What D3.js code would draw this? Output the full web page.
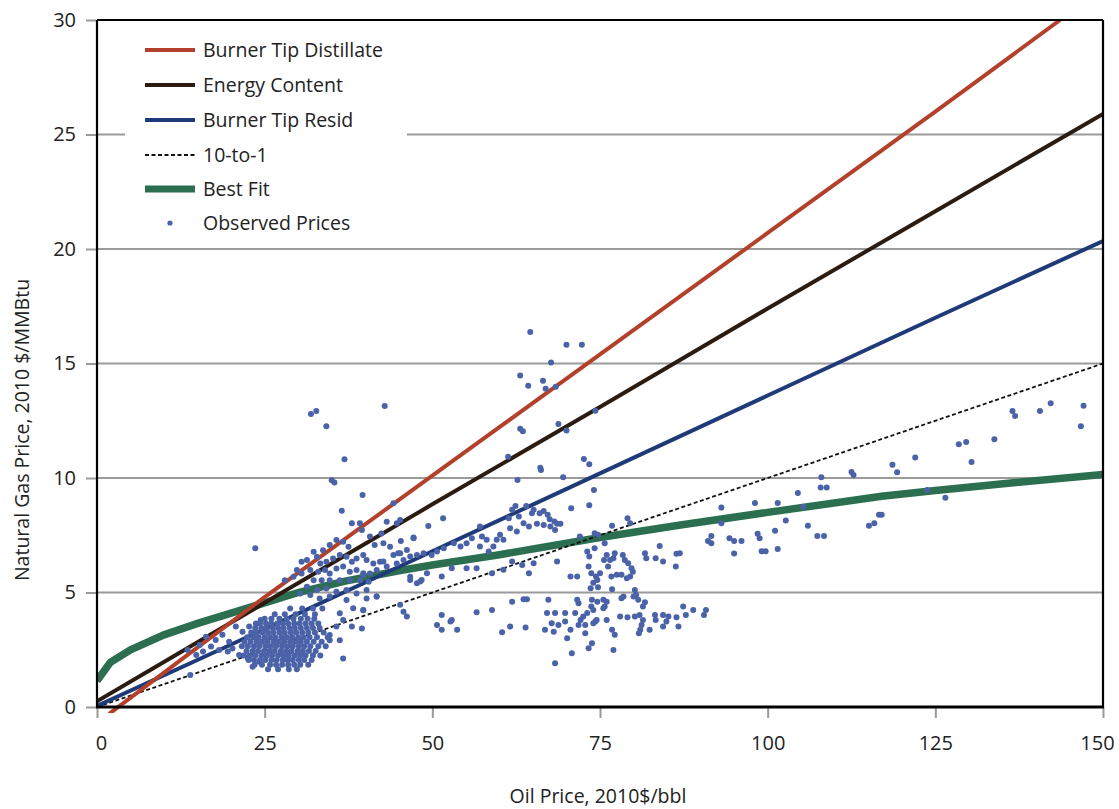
<!DOCTYPE html>
<html><head><meta charset="utf-8">
<script src="https://cdn.jsdelivr.net/npm/d3@7"></script>
<style>html,body{margin:0;padding:0;background:#fff;}svg{display:block;font-family:"Open Sans",sans-serif;}</style>
</head><body><svg id="c" width="1119" height="809"></svg>
<script>
const xTicks=[0,25,50,75,100,125,150];
const yTicks=[0,5,10,15,20,25,30];
const seriesNames=["Burner Tip Distillate","Energy Content","Burner Tip Resid","10-to-1","Best Fit","Observed Prices"];
const burnerTipDistillate=[[1.8,-0.3],[25,4.8],[50,10.1],[75,15.4],[100,20.7],[125,26.0],[143.6,30]];
const energyContent=[[0,0.25],[25,4.55],[50,8.85],[75,13.1],[100,17.4],[125,21.65],[150,25.9]];
const burnerTipResid=[[0,0.05],[25,3.4],[50,6.8],[75,10.2],[100,13.6],[125,17.0],[150,20.35]];
const tenToOne=[[0,0],[150,15]];
const bestFit=[[0,1.15],[2,1.95],[5,2.5],[10,3.15],[15,3.65],[20,4.1],[25,4.55],[30,5.0],[37,5.5],[45,5.95],[50,6.2],[60,6.65],[75,7.4],[87,7.95],[100,8.5],[117,9.2],[125,9.45],[137,9.8],[150,10.15]];
const observedOutliers=[[31.9,12.8],[32.7,12.93],[34.2,12.26],[42.9,13.14],[36.9,10.82],[35.0,9.9],[35.4,9.8],[39.6,9.26],
[64.6,16.38],[70.0,15.82],[72.3,15.82],[67.7,15.04],[63.1,14.48],[64.3,14.03],[66.5,14.25],[66.9,13.9],[68.4,13.99],[63.1,12.15],[63.5,12.04],[68.8,12.36],[70.0,12.07],[74.3,12.94],[61.3,10.93],[72.6,10.83],
[66.1,10.45],[66.2,10.35],[62.7,9.91],[73.4,10.6],[69.5,10.03],[74.1,9.48],[73.4,8.81],[70.7,8.68],[51.6,8.24],[49.4,7.9],[45.3,7.25],[47.2,7.4]];
const observedMid=[[61.9,8.61],[62.4,8.78],[64.0,8.78],[64.85,8.46],[65.1,8.61],[66.0,8.46],[66.6,8.56],[67.2,8.39],[67.5,8.2],[68.2,8.1],[68.6,8.0],[69.1,8.0],[61.4,8.24],[62.9,8.32],[63.6,8.02],[64.4,7.88],[65.6,8.0],[66.6,7.95],[67.6,7.88],[68.3,7.73],[61.6,7.81],[62.6,7.66],[60.1,7.52],[59.6,7.3],[60.6,7.3],[58.1,7.3],[57.1,7.88],[57.4,7.44],[55.9,7.37],[55.1,7.15],[57.1,7.01],[59.1,7.01],[58.4,6.79],[54.2,7.01],[53.2,7.15],[51.7,6.93],[50.7,6.79],[49.9,6.64],[48.7,6.71],[47.7,6.64],[46.7,6.57],[46.2,6.86],[45.7,6.42],[45.2,6.71],
[46.7,5.55],[48.2,5.48],[49.2,5.84],[51.4,5.7],[52.9,6.06],[55.1,6.06],[56.6,6.06],[58.9,5.84],[60.6,5.99],[61.9,6.35],[63.4,6.2],[64.4,5.84],[65.1,6.28],[68.6,6.35],[70.6,5.7],[71.6,5.7],[73.1,6.79],[73.3,6.13],[73.7,5.84],[74.0,5.43],[73.6,5.19],[74.6,5.55],[75.0,5.84],
[45.2,4.46],[46.2,3.95],[50.7,3.58],[51.4,4.02],[51.4,3.37],[52.7,3.73],[52.9,3.8],[53.7,3.37],[56.6,4.14],[58.9,4.24],[61.9,4.6],[63.6,4.71],[64.1,4.71],[67.3,4.68],[67.1,4.1],[67.8,3.66],[68.3,4.1],[66.8,3.37],[68.1,3.29],[68.8,3.58],[69.8,4.1],[69.8,3.73],[70.1,3.0],[71.6,4.68],[71.8,4.53],[71.3,4.1],[72.1,3.8],[73.1,4.1],[74.0,4.24],[73.8,4.68],[74.6,4.6],[74.3,3.73],[72.8,3.58],[71.8,3.58],[70.6,3.37],[72.8,3.22],[73.8,2.78],[73.3,2.57],[70.8,2.35],[68.3,1.91],[61.6,3.51],[63.9,3.47],[60.4,3.26]];
const observedRight=[[74.2,7.59],[74.7,7.52],[73.4,6.57],[74.2,6.93],[74.4,5.7],[74.7,5.23],[73.7,4.39],[72.5,3.95],[74.5,3.8],[74.0,3.66],[72.0,7.44],
[79.1,8.24],[79.5,8.02],[76.8,7.92],[75.7,7.15],[76.0,6.64],[75.6,6.42],[76.5,6.42],[77.0,6.5],[77.2,6.71],[78.4,6.64],[78.7,6.42],[79.2,6.28],[79.7,6.06],[79.9,5.91],[79.5,5.7],[79.0,5.62],[78.2,5.77],[77.5,5.77],[76.7,5.7],[76.2,6.13],[81.9,6.5],[81.7,6.71],[83.3,6.5],[84.4,6.35],[83.9,7.03],[86.4,6.69],[86.3,6.13],[76.8,5.14],[78.5,4.82],[78.2,4.75],[80.2,5.11],[80.4,4.89],[80.0,4.82],[80.7,4.68],[75.5,4.68],[76.0,4.6],[75.7,4.39],[75.5,4.31],[76.0,3.8],[76.8,3.37],[77.2,3.15],[77.0,2.49],[78.0,3.95],[79.1,3.92],[80.2,3.95],[80.9,4.02],[81.4,3.8],[81.2,3.58],[81.0,3.37],[80.8,3.22],[82.4,3.37],[81.4,4.39],[81.7,4.57],[83.2,4.02],[83.3,3.8],[84.4,4.02],[85.2,3.95],[84.9,3.73],[84.4,3.51],[86.4,3.92],[86.7,3.51],[87.4,4.39],[87.8,4.02],[88.9,4.24],[90.5,4.02],[90.8,4.24],
[86.9,6.71],[91.1,7.25],[91.6,7.15],[91.6,7.47],[93.1,8.71],[93.1,8.02],[94.3,7.37],[95.0,7.25],[96.1,7.25],[95.0,6.7],[98.1,8.91],[98.5,7.57],[98.8,7.37],[99.1,6.8],[99.7,6.8],[101.1,7.7],[101.5,6.9],[101.5,8.91],[102.7,8.14],[104.5,9.35],[106.0,7.92],[105.3,8.75],[107.4,7.47],[108.4,7.47],[108.0,10.03],[107.9,9.59],[108.8,9.59],[112.5,10.26],[112.8,10.13],[115.1,7.92],[115.9,8.02],[116.6,8.39],[117.0,8.39],[118.6,10.58],[119.3,10.25],[122.0,10.9],[123.8,9.48],[126.5,9.14],[128.5,11.47],[129.6,11.57],[130.4,10.7],[133.8,11.69],[136.5,12.93],[136.9,12.71],[140.6,12.93],[142.2,13.26],[147.1,13.15],[146.7,12.26]];
const observedLeft=[[36.5,8.57],[23.6,6.93],[38.0,8.02],[39.2,8.02],[39.5,7.73],[40.7,7.44],[42.4,7.58],[43.2,8.09],[44.7,8.02],[41.4,7.07],[42.7,7.15],[43.7,7.0],[44.2,6.64],[44.7,6.27],[32.3,6.78],[33.7,6.85],[34.7,7.07],[35.7,7.29],[36.7,7.22],[37.5,7.0],[30.5,6.34],[31.3,6.42],[32.8,6.56],[33.3,6.27],[34.2,6.34],[35.2,6.49],[36.2,6.64],[37.2,6.56],[38.0,6.34],[38.7,6.49],[39.7,6.64],[40.2,6.42],[41.2,6.27],[42.2,6.34],[43.2,6.13],[31.8,5.98],[33.0,5.91],[34.0,5.98],[34.7,5.83],[35.7,6.05],[36.7,6.13],[37.7,5.91],[38.7,5.98],[39.7,5.76],[40.7,5.83],[41.7,5.98],[34.7,5.54],[36.2,5.54],[37.7,5.54],[39.2,5.54],[40.5,5.47],[33.5,5.54],[32.3,5.54],[31.3,5.25],[32.8,5.11],[34.2,5.18],[35.7,5.03],[37.2,5.11],[38.7,4.96],[40.2,5.11],[41.7,4.82],[40.2,4.74],[37.2,4.67],[34.7,4.82],[33.2,4.74],[31.8,4.89],[30.3,4.96],[38.2,4.31],[39.7,4.23],[36.2,4.09],[36.7,3.8],[38.0,3.51],[39.5,3.43],[35.7,3.51],[34.7,3.14],[36.2,2.92],[34.7,2.92],[36.7,2.12],[28.0,5.54],[29.3,5.69],[29.8,5.98],[30.5,5.83],
[39.7,5.84],[42.7,6.35],[44.9,6.71],[46.7,5.69],[47.7,5.4],[48.4,5.55],[39.7,4.24],[41.7,4.82],[45.7,4.16],[44.2,8.9],[45.2,8.17],[47.2,7.37],[13.9,1.4],
[16.25,3.07],[17.0,2.64],[17.7,2.93],[18.7,3.15],[19.7,2.85],[20.7,3.51],[21.7,3.29],[22.7,3.51],[23.7,3.65],[24.4,3.8],[21.2,2.27],[22.5,2.13],[23.2,1.76],[24.2,1.98],[14.8,2.27],[15.3,2.71],[15.8,2.42],[18.2,2.49],[19.5,2.42],[20.2,2.56],[13.5,2.49]];
const blobRowY=[1.65,1.85,2.05,2.25,2.45,2.65,2.85,3.05,3.25,3.45,3.65,3.85,4.05,4.3];
const blobRowX=[
[25.5,27.0,28.6,29.8],
[23.5,24.6,25.8,26.7,27.6,28.5,29.4,30.3,31.5],
[22.6,23.4,24.3,25.1,26.0,26.8,27.7,28.4,29.2,30.1,30.9,32.0],
[21.9,22.8,23.6,24.5,25.3,26.1,27.0,27.8,28.6,29.5,30.3,31.1,32.2,33.3],
[22.3,23.2,24.0,24.9,25.7,26.5,27.4,28.2,29.0,29.9,30.7,31.6,32.6],
[21.6,22.5,23.4,24.2,25.1,25.9,26.7,27.6,28.4,29.2,30.1,30.9,31.8,33.0,34.1],
[22.0,22.9,23.8,24.6,25.4,26.3,27.1,27.9,28.8,29.6,30.4,31.3,32.3,33.5],
[22.4,23.3,24.1,25.0,25.8,26.6,27.5,28.3,29.1,30.0,30.8,31.7,32.8,34.4],
[23.0,23.8,24.7,25.5,26.3,27.2,28.0,28.9,29.7,30.6,31.5,32.5,33.8],
[23.6,24.5,25.3,26.2,27.0,27.8,28.7,29.5,30.4,31.3,32.2,33.2],
[24.3,25.2,26.0,26.9,27.7,28.5,29.4,30.2,31.1,32.0,33.0],
[25.0,26.0,27.2,28.3,29.3,30.4,31.4,32.4],
[26.5,28.0,29.6,31.0,32.5],
[28.8,30.6,32.2,33.6]];

const svg=d3.select("#c");
const m={l:97,r:1103,t:20,b:707};
const x=d3.scaleLinear().domain([0,150]).range([m.l,m.r]);
const y=d3.scaleLinear().domain([0,30]).range([m.b,m.t]);
const colors={dist:"#b3402b",energy:"#2b1c12",resid:"#1f3a78",ten:"#111",fit:"#2b6e50",obs:"#4a62a8",grid:"#9a9a9a"};

svg.append("g").selectAll("line").data(yTicks.filter(d=>d>0&&d<30)).join("line")
 .attr("x1",m.l).attr("x2",m.r).attr("y1",d=>y(d)).attr("y2",d=>y(d))
 .attr("stroke",colors.grid).attr("stroke-width",2);

const yAxis=d3.axisLeft(y).tickValues(yTicks).tickSize(11).tickPadding(10).tickFormat(d3.format("d"));
const gy=svg.append("g").attr("transform",`translate(${m.l},0)`).call(yAxis);
gy.select(".domain").remove();
gy.selectAll(".tick line").attr("stroke",colors.grid).attr("stroke-width",2);
gy.selectAll(".tick text").attr("font-size",20).attr("fill","#222").attr("font-family","Open Sans, sans-serif");
const xAxis=d3.axisBottom(x).tickValues(xTicks).tickSize(11).tickPadding(18).tickFormat(d3.format("d"));
const gx=svg.append("g").attr("transform",`translate(0,${m.b})`).call(xAxis);
gx.select(".domain").remove();
gx.selectAll(".tick line").attr("stroke",colors.grid).attr("stroke-width",2);
gx.selectAll(".tick text").attr("font-size",20).attr("fill","#222").attr("font-family","Open Sans, sans-serif")
 .attr("dx",d=>d===150?"-0.3em":(d===0?"0.2em":null));

svg.append("clipPath").attr("id","clip").append("rect").attr("x",m.l).attr("y",m.t).attr("width",m.r-m.l).attr("height",m.b-m.t+6);
const plot=svg.append("g").attr("clip-path","url(#clip)");
const line=d3.line().x(d=>x(d[0])).y(d=>y(d[1]));
plot.append("path").datum(bestFit).attr("d",line).attr("fill","none").attr("stroke",colors.fit).attr("stroke-width",7.5);
plot.append("path").datum(tenToOne).attr("d",line).attr("fill","none").attr("stroke",colors.ten).attr("stroke-width",1.8).attr("stroke-dasharray","4,2.5");
plot.append("path").datum(burnerTipResid).attr("d",line).attr("fill","none").attr("stroke",colors.resid).attr("stroke-width",4);
plot.append("path").datum(energyContent).attr("d",line).attr("fill","none").attr("stroke",colors.energy).attr("stroke-width",4);
plot.append("path").datum(burnerTipDistillate).attr("d",line).attr("fill","none").attr("stroke",colors.dist).attr("stroke-width",4);

const blob=[];blobRowY.forEach((yy,i)=>blobRowX[i].forEach(xx=>blob.push([xx,yy])));
const observed=observedOutliers.concat(observedMid,observedRight,observedLeft,blob);
plot.append("g").selectAll("circle").data(observed).join("circle")
 .attr("cx",d=>x(d[0])).attr("cy",d=>y(d[1])).attr("r",3).attr("fill",colors.obs);

svg.append("line").attr("x1",m.l).attr("x2",m.l).attr("y1",m.t).attr("y2",m.b+1).attr("stroke","#000").attr("stroke-width",2.2);
svg.append("line").attr("x1",m.r).attr("x2",m.r).attr("y1",m.t).attr("y2",m.b).attr("stroke","#000").attr("stroke-width",2.2);
svg.append("line").attr("x1",m.l).attr("x2",m.r).attr("y1",m.t).attr("y2",m.t).attr("stroke","#000").attr("stroke-width",2.2);
svg.append("line").attr("x1",m.l-1).attr("x2",m.r+1).attr("y1",m.b).attr("y2",m.b).attr("stroke","#000").attr("stroke-width",3);

const lg=svg.append("g");
lg.append("rect").attr("x",125).attr("y",30).attr("width",282).attr("height",210).attr("fill","#fff");
const legendStyles=[{c:colors.dist,w:4},{c:colors.energy,w:4},{c:colors.resid,w:4},{c:colors.ten,w:1.8,dash:"4,2.5"},{c:colors.fit,w:7},{c:colors.obs,dot:true}];
const rowY=[50,85,120,155,189,223];
seriesNames.forEach((n,i)=>{
 const s=legendStyles[i];
 if(s.dot){lg.append("circle").attr("cx",170).attr("cy",rowY[i]).attr("r",2.6).attr("fill",s.c);}
 else{lg.append("line").attr("x1",145).attr("x2",195).attr("y1",rowY[i]).attr("y2",rowY[i]).attr("stroke",s.c).attr("stroke-width",s.w).attr("stroke-dasharray",s.dash||null);}
 lg.append("text").attr("x",203).attr("y",rowY[i]).attr("dy","0.35em").attr("font-size",19.5).attr("fill","#222").text(n);
});

svg.append("text").attr("x",598).attr("y",796).attr("dy","0.35em").attr("text-anchor","middle").attr("font-size",19.5).attr("fill","#222").text("Oil Price, 2010$/bbl");
svg.append("text").attr("transform","translate(22,430) rotate(-90)").attr("dy","0.35em").attr("text-anchor","middle").attr("font-size",19.5).attr("fill","#222").text("Natural Gas Price, 2010 $/MMBtu");
</script></body></html>
